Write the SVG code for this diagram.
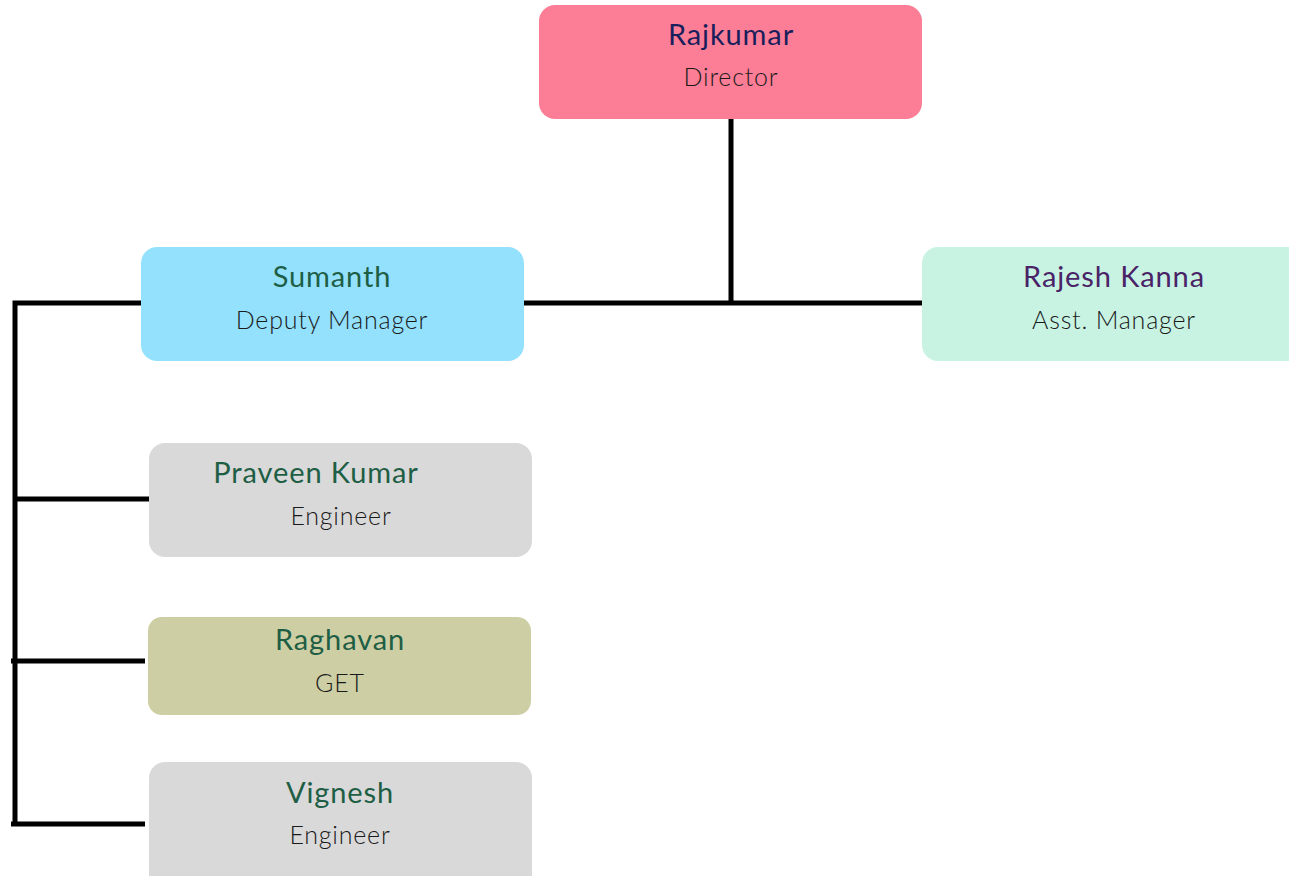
<svg xmlns="http://www.w3.org/2000/svg" width="1289" height="876" viewBox="0 0 1289 876">
<style>
.box{stroke:none}
.name{font-family:Lato,"Noto Sans",sans-serif;font-size:29px;letter-spacing:0.9px;text-anchor:middle}
.role{font-family:Lato,"Noto Sans",sans-serif;font-size:25px;font-weight:300;letter-spacing:0.8px;fill:#1a1a1a;text-anchor:middle}
.ln{stroke:#000;stroke-width:5;fill:none}
</style>
<rect width="1289" height="876" fill="#fff"/>
<g id="connectors">
<line class="ln" x1="731" y1="119" x2="731" y2="305"/>
<line class="ln" x1="524" y1="303" x2="922" y2="303"/>
<polyline class="ln" points="141,303 15,303 15,826"/>
<line class="ln" x1="15" y1="499" x2="149" y2="499"/>
<line class="ln" x1="11" y1="661" x2="145" y2="661"/>
<line class="ln" x1="11" y1="824" x2="145" y2="824"/>
</g>
<g id="rajkumar">
<rect class="box" x="539" y="5" width="383" height="114" rx="16" fill="#FC7E96"/>
<text class="name" x="731" y="45" fill="#1A1F5C">Rajkumar</text>
<text class="role" x="731" y="86">Director</text>
</g>
<g id="sumanth">
<rect class="box" x="141" y="247" width="383" height="114" rx="16" fill="#94E1FD"/>
<text class="name" x="332" y="287" fill="#1E5E45">Sumanth</text>
<text class="role" x="332" y="329">Deputy Manager</text>
</g>
<g id="rajesh">
<rect class="box" x="922" y="247" width="383" height="114" rx="16" fill="#C8F3E3"/>
<text class="name" x="1114" y="287" fill="#4A2367">Rajesh Kanna</text>
<text class="role" x="1114" y="329">Asst. Manager</text>
</g>
<g id="praveen">
<rect class="box" x="149" y="443" width="383" height="114" rx="16" fill="#D9D9D9"/>
<text class="name" x="316" y="483" fill="#1E5E45">Praveen Kumar</text>
<text class="role" x="341" y="525">Engineer</text>
</g>
<g id="raghavan">
<rect class="box" x="148" y="617" width="383" height="98" rx="14" fill="#CDCEA3"/>
<text class="name" x="340" y="650" fill="#1E5E45">Raghavan</text>
<text class="role" x="340" y="692">GET</text>
</g>
<g id="vignesh">
<rect class="box" x="149" y="762" width="383" height="130" rx="16" fill="#D9D9D9"/>
<text class="name" x="340" y="803" fill="#1E5E45">Vignesh</text>
<text class="role" x="340" y="844">Engineer</text>
</g>
</svg>
